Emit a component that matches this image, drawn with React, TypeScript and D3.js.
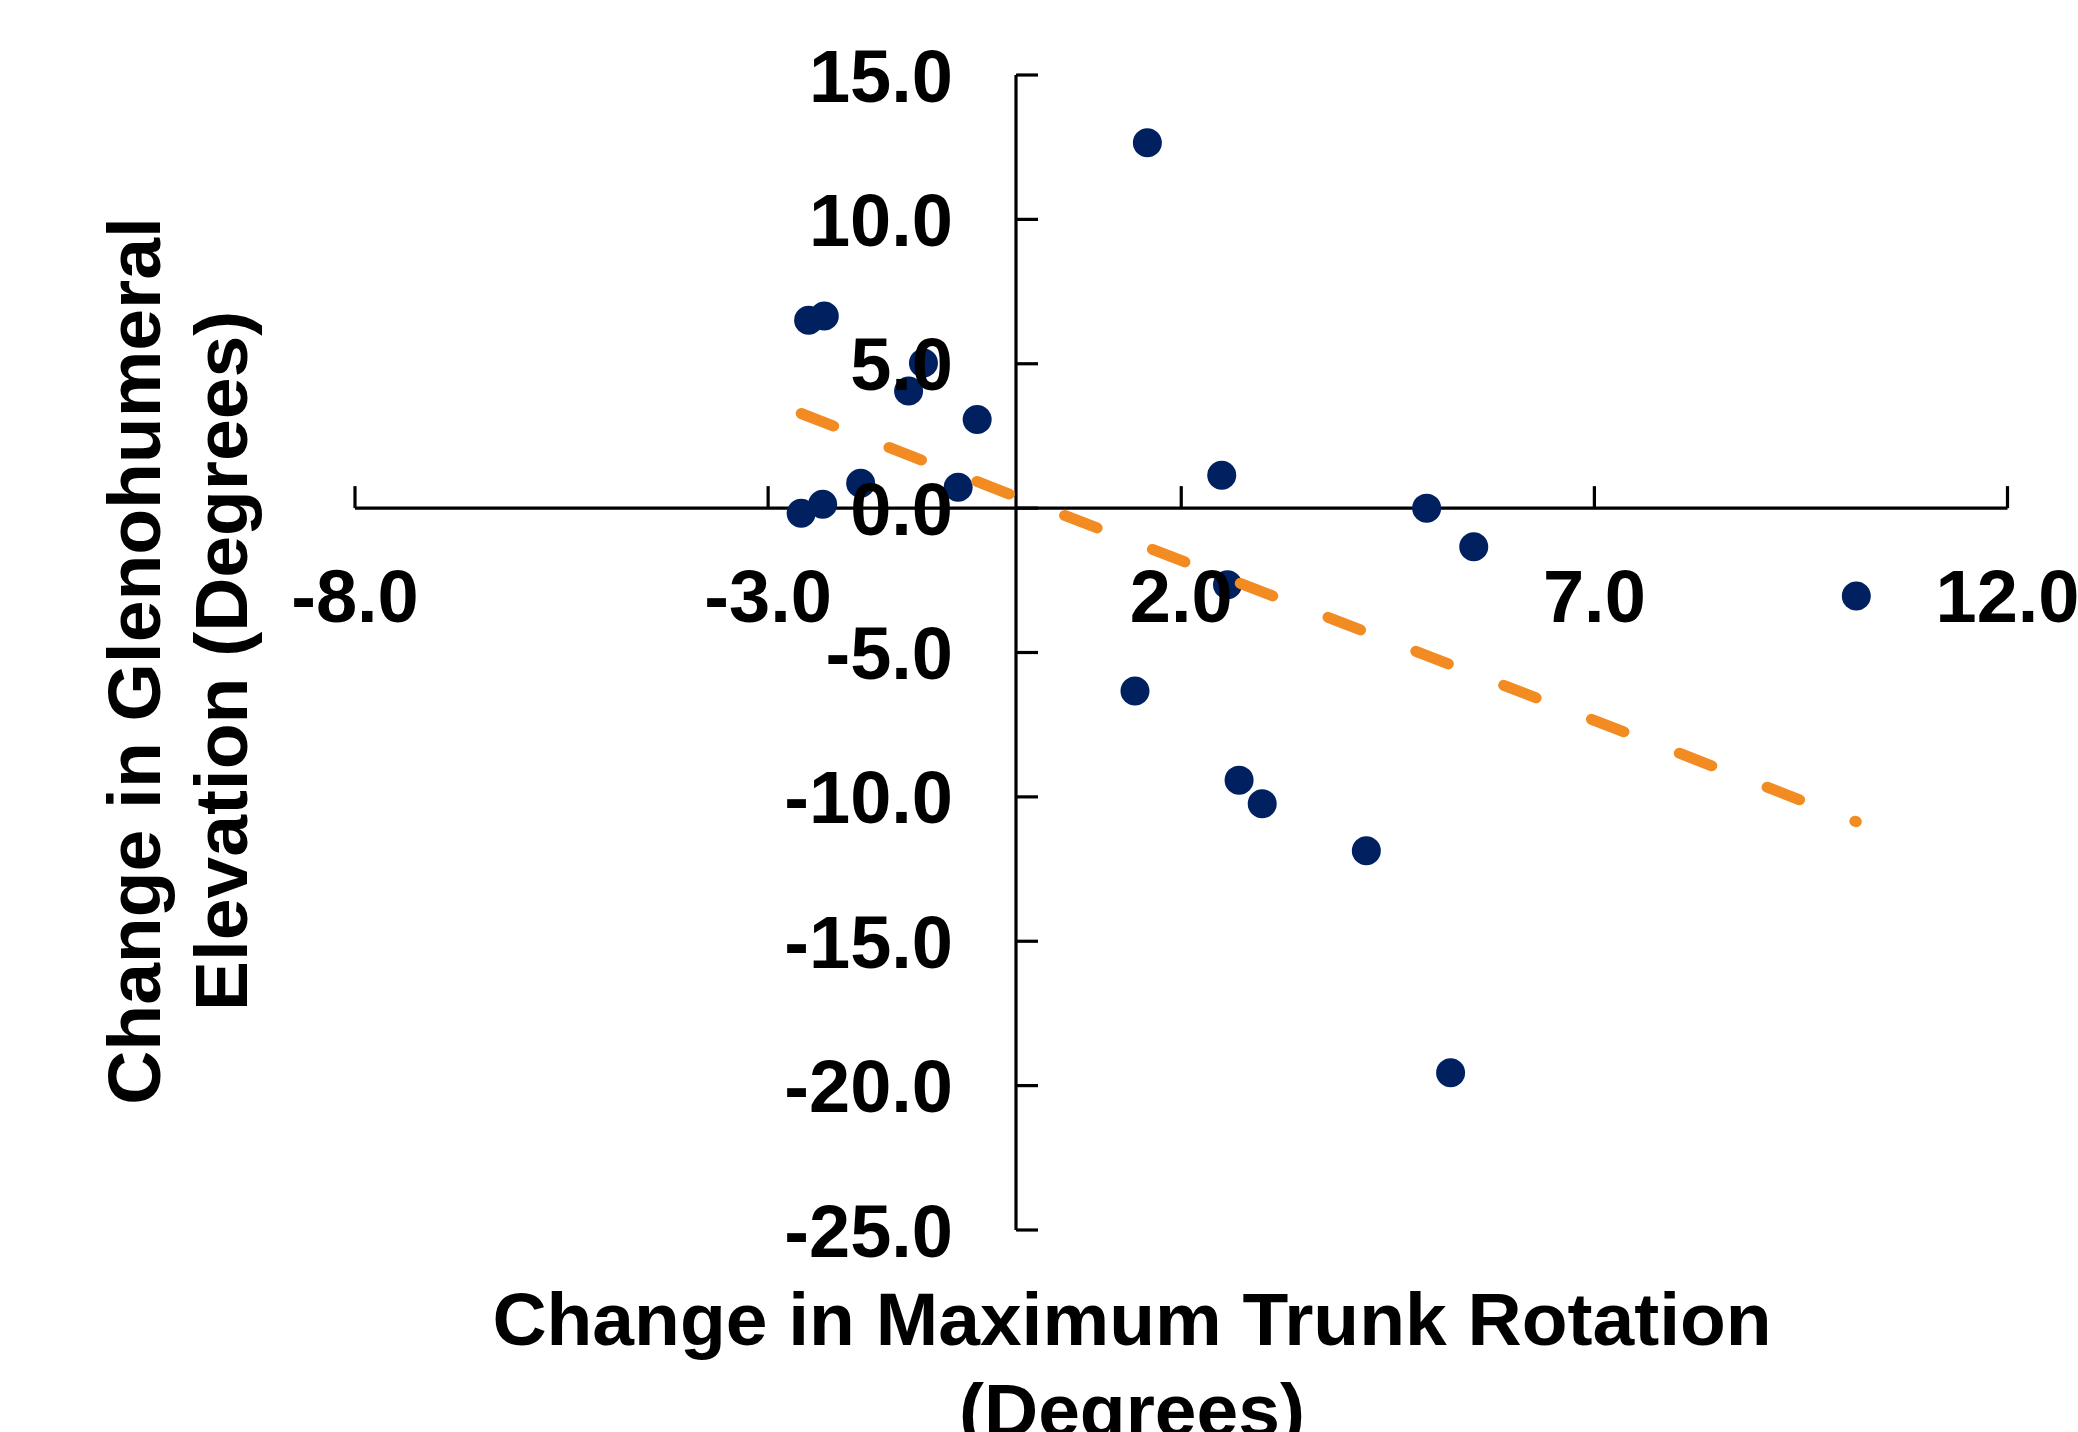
import React from "react";
import * as d3 from "d3";

const xVals = [-2.51, -2.32, -1.12, -1.3, -0.47, -1.88, -0.7, -2.34, -2.6, 1.59, 2.49, 4.97, 5.54, 2.56, 10.17, 1.44, 2.7, 2.98, 4.24, 5.26];
const yVals = [6.51, 6.65, 5.03, 4.06, 3.07, 0.86, 0.72, 0.13, -0.18, 12.65, 1.14, 0.0, -1.34, -2.65, -3.04, -6.33, -9.42, -10.24, -11.87, -19.55];
const xTicks = [-8, -3, 2, 7, 12];
const yTicks = [15, 10, 5, 0, -5, -10, -15, -20, -25];
const xTitle = ["Change in Maximum Trunk Rotation", "(Degrees)"];
const yTitle = ["Change in Glenohumeral", "Elevation (Degrees)"];

const W = 2078;
const H = 1432;
const FONT = "'Liberation Sans', Arial, Helvetica, sans-serif";

export default function App() {
  const x = d3.scaleLinear().domain([-8, 12]).range([355, 2007.5]);
  const y = d3.scaleLinear().domain([-25, 15]).range([1230, 75]);
  const x0 = x(0);
  const y0 = y(0);
  const tickLen = 22;

  // least-squares trend line over the data range
  const mx = d3.mean(xVals)!;
  const my = d3.mean(yVals)!;
  let sxy = 0, sxx = 0;
  xVals.forEach((v, i) => {
    sxy += (v - mx) * (yVals[i] - my);
    sxx += (v - mx) * (v - mx);
  });
  const slope = sxy / sxx;
  const icpt = my - slope * mx;
  const [xmin, xmax] = d3.extent(xVals) as [number, number];
  const p1 = [x(xmin), y(icpt + slope * xmin)];
  const p2 = [x(xmax), y(icpt + slope * xmax)];
  const len = Math.hypot(p2[0] - p1[0], p2[1] - p1[1]);
  const period = (len - 1.5) / 12;
  const line = d3.line<number[]>()([p1, p2]) || "";

  return (
    <svg width={W} height={H} style={{ position: "absolute", left: 0, top: 0, background: "#fff" }}>
      <rect x={0} y={0} width={W} height={H} fill="#fff" />
      {/* axes */}
      <g stroke="#000" strokeWidth={3.2} fill="none">
        <line x1={x(-8)} x2={x(12)} y1={y0} y2={y0} />
        <line x1={x0} x2={x0} y1={y(15)} y2={y(-25)} />
        {xTicks.map((t) => (
          <line key={"xt" + t} x1={x(t)} x2={x(t)} y1={y0} y2={y0 - tickLen} />
        ))}
        {yTicks.map((t) => (
          <line key={"yt" + t} x1={x0} x2={x0 + tickLen} y1={y(t)} y2={y(t)} />
        ))}
      </g>
      {/* points */}
      <g fill="#002060">
        {xVals.map((v, i) => (
          <circle key={i} cx={x(v)} cy={y(yVals[i])} r={14.5} />
        ))}
      </g>
      {/* trend */}
      <path
        d={line}
        stroke="#F28C22"
        strokeWidth={11}
        strokeLinecap="round"
        strokeDasharray={`${period * 0.37} ${period * 0.63}`}
        fill="none"
      />
      {/* tick labels */}
      <g fontFamily={FONT} fontWeight="bold" fontSize={74} fill="#000">
        {xTicks.map((t) => (
          <text key={"xl" + t} x={x(t)} y={622} textAnchor="middle">
            {t.toFixed(1)}
          </text>
        ))}
        {yTicks.map((t) => (
          <text key={"yl" + t} x={953} y={y(t) + 26.5} textAnchor="end">
            {t.toFixed(1)}
          </text>
        ))}
      </g>
      {/* axis titles */}
      <g fontFamily={FONT} fontWeight="bold" fontSize={75} fill="#000" textAnchor="middle">
        <text x={1132} y={1345}>{xTitle[0]}</text>
        <text x={1132} y={1436}>{xTitle[1]}</text>
        <g transform="translate(160, 661) rotate(-90)">
          <text x={0} y={0}>{yTitle[0]}</text>
          <text x={0} y={87}>{yTitle[1]}</text>
        </g>
      </g>
    </svg>
  );
}
